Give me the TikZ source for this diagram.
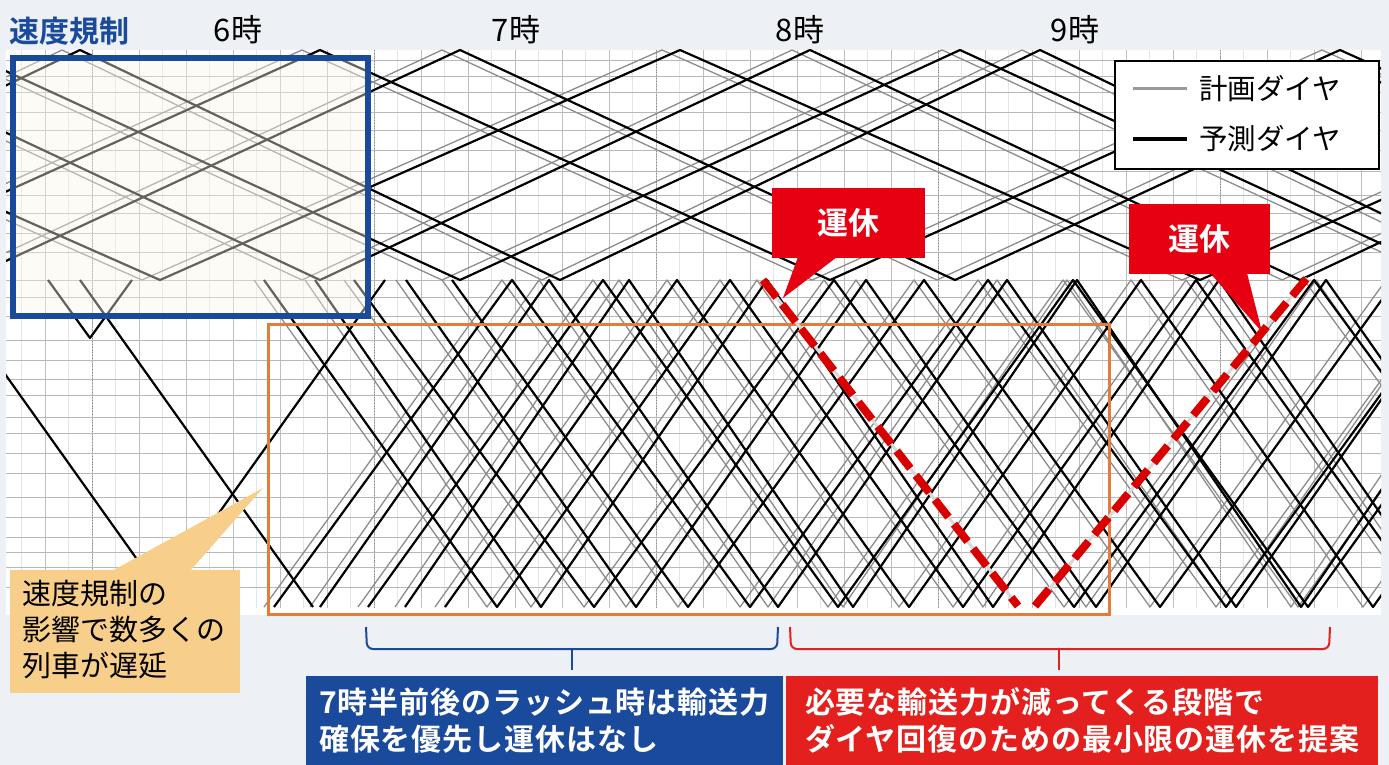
\documentclass[tikz,border=0pt]{standalone}
\usepackage{fontspec}
\setmainfont{Noto Sans CJK JP}[BoldFont={Noto Sans CJK JP Bold}]
\definecolor{bgc}{RGB}{237,240,245}
\definecolor{navy}{RGB}{26,74,155}
\definecolor{boxred}{RGB}{228,32,30}
\definecolor{callred}{RGB}{230,0,18}
\definecolor{orangeline}{RGB}{226,124,58}
\definecolor{calloutor}{RGB}{248,207,138}
\definecolor{beige}{RGB}{251,246,233}
\tikzset{
  pred/.style={black, line width=2.2pt, line join=round},
  plan/.style={black!45, line width=1.3pt, line join=round},
  gridmin/.style={black!10, line width=0.6pt},
  gridmaj/.style={black!25, line width=0.8pt},
  gridrow/.style={black!28, line width=0.9pt},
  hourlbl/.style={font=\fontsize{31}{34}\selectfont, text=black, inner sep=0},
  redtag/.style={fill=callred, text=white, font=\bfseries\fontsize{31}{34}\selectfont, minimum width=153pt, minimum height=70pt, inner sep=0},
  bigbox/.style={text=white, font=\bfseries\fontsize{30}{37}\selectfont\addfontfeatures{LetterSpace=3}, align=left, anchor=north west, inner xsep=13pt, inner ysep=0, minimum height=89pt},
  cancelbase/.style={black!15, line width=3pt},
  canceldash/.style={red!85!black, line width=8pt, dash pattern=on 22pt off 9pt},
}
% #1 style, #2 start x, #3 cycles, #4 leg length
\newcommand{\lowdown}[4]{\draw[#1] (#2,280) \foreach \k in {1,...,#3}{ -- ++(#4,327) -- ++(#4,-327)};}
\newcommand{\lowup}[4]{\draw[#1] (#2,607) \foreach \k in {1,...,#3}{ -- ++(#4,-327) -- ++(#4,327)};}
\newcommand{\upzig}[3]{\draw[#1] (#2,50) \foreach \k in {1,...,3}{ -- ++(#3,230) -- ++(#3,-230)};}
\begin{document}
\begin{tikzpicture}[x=1pt,y=-1pt]
\useasboundingbox (0,0) rectangle (1389,765);
\fill[bgc] (0,0) rectangle (1389,765);
\fill[white] (6,50) rectangle (1381,615);
\begin{scope}
\clip (6,50) rectangle (1381,607);
% grid
\foreach \i in {0,...,59} { \draw[gridmin] ({-2+23.5*\i},50) -- ++(0,560); }
\foreach \i in {0,...,30} { \draw[gridmaj] ({-2+47*\i},50) -- ++(0,560); }
\foreach \i in {0,...,4} { \draw[black!45, line width=0.8pt, dotted] ({92+282*\i},50) -- ++(0,560); }
\foreach \y in {60,76,92,112,130,150,171,195,213,233,252,280,297,316,340,360,379,395,417,433,453,473,497,517,537,552,567,587}
  { \draw[gridrow] (6,\y) -- (1381,\y); }
% planned (grey) diagrams
\foreach \q/\l in {-40/500,120/480,300/510,470/495,640/520,830/490} { \upzig{plan}{\q-1018}{\l} }
\foreach \p/\l in {497/233,541/226,594/240,636/230,688/236} { \lowdown{plan}{\p-\l-10}{5}{\l} }
\foreach \p/\l in {274/238,320/229,368/235,405/224,445/232} { \lowup{plan}{\p-10}{5}{\l} }
% predicted (black) diagrams
\foreach \q/\l in {-40/500,120/480,300/510,470/495,640/520,830/490} { \upzig{pred}{\q-1000}{\l} }
\foreach \p/\l in {497/233,541/226,594/240,636/230,688/236} { \lowdown{pred}{\p-\l}{5}{\l} }
\foreach \p/\l in {274/238,320/229,368/235,405/224,445/232} { \lowup{pred}{\p}{5}{\l} }
\draw[pred] (-62,280) -- (171,607);
\draw[pred] (80,280) -- (313,607);
\draw[pred] (152,607) -- (385,280);
\draw[pred] (48,280) -- (90,338) -- (132,280);
\end{scope}
% speed restriction frame
\node[draw=navy, line width=6pt, fill=beige, fill opacity=0.4, minimum width=355pt, minimum height=258pt, anchor=north west, inner sep=0] (spd) at (10,55) {};
\node[anchor=west, text=navy, font=\bfseries\fontsize{30}{33}\selectfont, inner sep=0] (spdlbl) at (9,31) {速度規制};
% hour labels
\node[hourlbl] (h6) at (238,30) {6時};
\node[hourlbl] (h7) at (516,30) {7時};
\node[hourlbl] (h8) at (800,30) {8時};
\node[hourlbl] (h9) at (1075,30) {9時};
% orange frame
\node[draw=orangeline, line width=2.5pt, minimum width=841pt, minimum height=290pt, anchor=north west, inner sep=0] (rush) at (267,323) {};
% cancelled trains
\coordinate (c1a) at (763,280);
\coordinate (c1b) at (1018,606);
\coordinate (c2a) at (1035,606);
\coordinate (c2b) at (1307,278);
\draw[cancelbase] (c1a) -- (c1b);
\draw[cancelbase] (c2a) -- (c2b);
\draw[canceldash] (c1a) -- (c1b);
\draw[canceldash] (c2a) -- (c2b);
% legend
\node[draw=black, line width=2pt, fill=white, minimum width=264pt, minimum height=108pt, anchor=north west, inner sep=0] (legend) at (1114,60) {};
\coordinate (lg1a) at (1133,89);
\coordinate (lg1b) at (1187,89);
\coordinate (lg2a) at (1133,139);
\coordinate (lg2b) at (1187,139);
\draw[black!40, line width=3pt] (lg1a) -- (lg1b);
\draw[black, line width=4pt] (lg2a) -- (lg2b);
\node[anchor=west, font=\fontsize{28.5}{31}\selectfont, inner sep=0] (lgt1) at (1199,89) {計画ダイヤ};
\node[anchor=west, font=\fontsize{28.5}{31}\selectfont, inner sep=0] (lgt2) at (1199,139) {予測ダイヤ};
% cancel callouts
\node[redtag] (tag1) at (848.5,223) {運休};
\fill[callred] (798,257) -- (837,257) -- (783,298) -- cycle;
\node[redtag, minimum width=141pt] (tag2) at (1199.5,239) {運休};
\fill[callred] (1210,273) -- (1247,273) -- (1262,332) -- cycle;
% delay callout
\node[fill=calloutor, minimum width=230pt, minimum height=123pt, anchor=north west, inner sep=0] (delaybox) at (10,570) {};
\fill[calloutor] (112,571) -- (190,571) -- (263,488) -- cycle;
\node[anchor=west, align=left, font=\fontsize{29}{36}\selectfont, inner sep=0] (delaytxt) at (22,630) {速度規制の\\影響で数多くの\\列車が遅延};
% braces
\draw[navy, line width=2pt, rounded corners=6pt] (366,627) -- (367,649) -- (777,649) -- (778,627);
\draw[navy, line width=2pt] (572,649) -- (572,670);
\draw[boxred, line width=2pt, rounded corners=6pt] (790,627) -- (791,649) -- (1329,649) -- (1330,627);
\draw[boxred, line width=2pt] (1059,649) -- (1059,670);
% bottom boxes
\node[bigbox, fill=navy, minimum width=474pt] (bluebox) at (306,676) {7時半前後のラッシュ時は輸送力\\確保を優先し運休はなし};
\node[bigbox, fill=boxred, minimum width=592pt] (redbox) at (786,676) {必要な輸送力が減ってくる段階で\\ダイヤ回復のための最小限の運休を提案};
\end{tikzpicture}
\end{document}
